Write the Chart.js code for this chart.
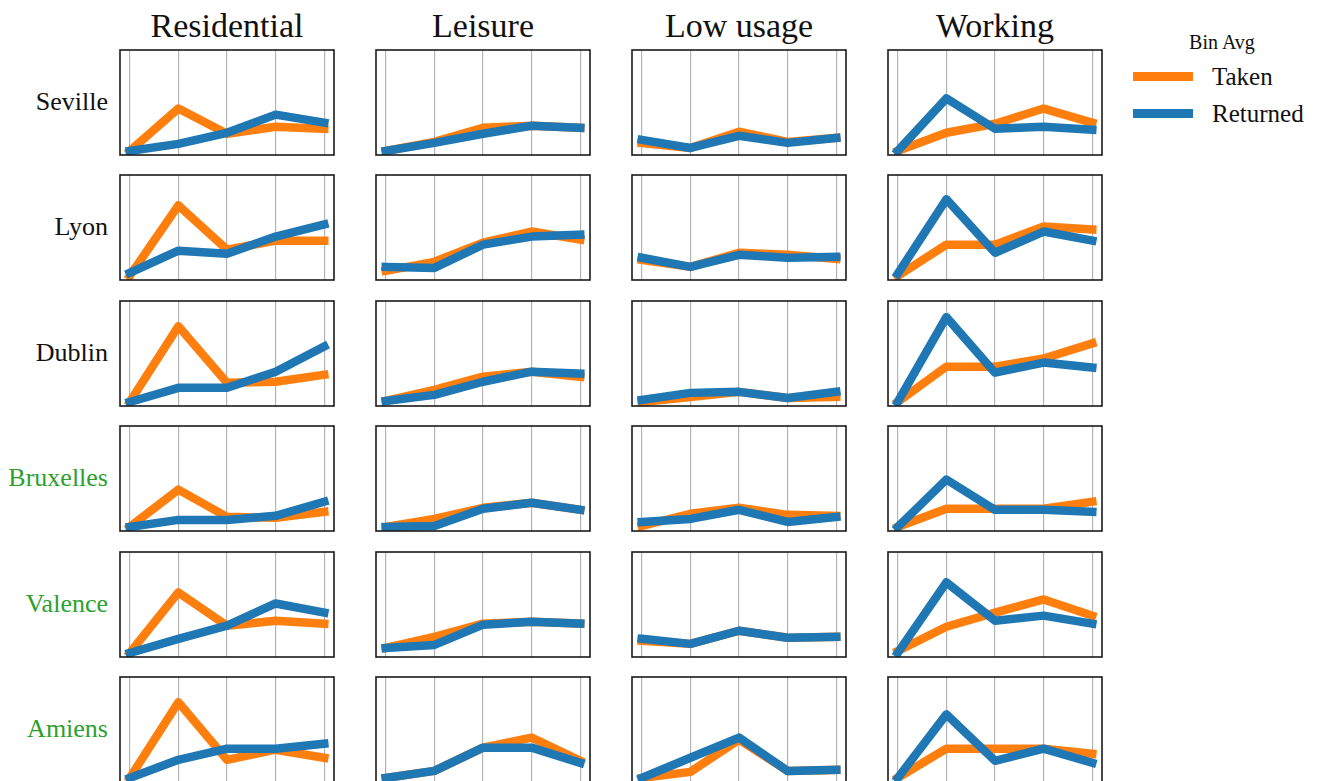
<!DOCTYPE html>
<html>
<head>
<meta charset="utf-8">
<script src="https://cdn.jsdelivr.net/npm/chart.js@4.4.1/dist/chart.umd.min.js"></script>
<style>
  html, body { margin: 0; padding: 0; background: #fff; }
  body { width: 1320px; height: 781px; position: relative; overflow: hidden; font-family: "Liberation Serif", "DejaVu Serif", serif; }
  .wrap { position: absolute; }
  .title { position: absolute; font-size: 34px; line-height: 34px; color: #111; white-space: nowrap; transform: translateX(-50%); }
  .rowlab { position: absolute; font-size: 26px; line-height: 26px; white-space: nowrap; transform: translateX(-100%); }
  .legtitle { position: absolute; font-size: 20px; line-height: 20px; color: #111; transform: translateX(-50%); white-space: nowrap; }
  .legtext { position: absolute; font-size: 25px; line-height: 25px; color: #111; white-space: nowrap; }
  .legline { position: absolute; height: 8.5px; }
</style>
</head>
<body>
<script>
// ---- data ----
const categories = ['Residential', 'Leisure', 'Low usage', 'Working'];
const cities = ['Seville', 'Lyon', 'Dublin', 'Bruxelles', 'Valence', 'Amiens'];
const seriesNames = ['Taken', 'Returned'];
const legendTitle = 'Bin Avg';
const xTicks = [0, 1, 2, 3, 4];

// each: [Residential, Leisure, Low usage, Working], 5 bins each
const sevilleTaken    = [[0, 0.42, 0.17, 0.24, 0.22], [0, 0.09, 0.23, 0.25, 0.23], [0.08, 0.03, 0.19, 0.09, 0.13], [0, 0.18, 0.27, 0.42, 0.28]];
const sevilleReturned = [[0, 0.07, 0.18, 0.36, 0.28], [0, 0.08, 0.17, 0.25, 0.23], [0.11, 0.03, 0.15, 0.08, 0.13], [0, 0.52, 0.22, 0.24, 0.21]];
const lyonTaken       = [[0, 0.70, 0.26, 0.35, 0.35], [0.05, 0.14, 0.33, 0.44, 0.36], [0.16, 0.09, 0.23, 0.21, 0.17], [0, 0.31, 0.31, 0.49, 0.46]];
const lyonReturned    = [[0.03, 0.25, 0.22, 0.39, 0.51], [0.09, 0.08, 0.31, 0.39, 0.41], [0.18, 0.09, 0.21, 0.18, 0.19], [0.02, 0.76, 0.23, 0.44, 0.35]];
const dublinTaken     = [[0, 0.75, 0.19, 0.20, 0.27], [0.01, 0.12, 0.25, 0.30, 0.25], [0, 0.05, 0.10, 0.04, 0.05], [0, 0.35, 0.35, 0.43, 0.58]];
const dublinReturned  = [[0, 0.14, 0.14, 0.30, 0.55], [0.01, 0.07, 0.20, 0.30, 0.28], [0.02, 0.09, 0.10, 0.04, 0.10], [0, 0.84, 0.29, 0.39, 0.34]];
const bruxellesTaken    = [[0, 0.37, 0.10, 0.09, 0.15], [0, 0.08, 0.19, 0.24, 0.17], [0.01, 0.13, 0.19, 0.12, 0.11], [0, 0.18, 0.18, 0.18, 0.25]];
const bruxellesReturned = [[0, 0.07, 0.07, 0.11, 0.25], [0, 0.01, 0.18, 0.24, 0.17], [0.05, 0.08, 0.17, 0.05, 0.10], [0, 0.47, 0.17, 0.17, 0.15]];
const valenceTaken    = [[0, 0.60, 0.27, 0.32, 0.29], [0.05, 0.16, 0.29, 0.31, 0.29], [0.12, 0.09, 0.22, 0.15, 0.16], [0.02, 0.26, 0.40, 0.53, 0.37]];
const valenceReturned = [[0, 0.14, 0.27, 0.49, 0.40], [0.05, 0.08, 0.28, 0.31, 0.29], [0.14, 0.09, 0.22, 0.15, 0.16], [0, 0.70, 0.32, 0.37, 0.29]];
const amiensTaken     = [[0, 0.75, 0.18, 0.28, 0.20], [0, 0.07, 0.30, 0.40, 0.17], [0, 0.06, 0.38, 0.07, 0.08], [0, 0.29, 0.29, 0.29, 0.24]];
const amiensReturned  = [[0, 0.18, 0.29, 0.29, 0.34], [0, 0.07, 0.30, 0.30, 0.15], [0, 0.20, 0.40, 0.07, 0.08], [0, 0.63, 0.17, 0.29, 0.15]];

const takenByCity = [sevilleTaken, lyonTaken, dublinTaken, bruxellesTaken, valenceTaken, amiensTaken];
const returnedByCity = [sevilleReturned, lyonReturned, dublinReturned, bruxellesReturned, valenceReturned, amiensReturned];

// ---- layout / style ----
const greenCities = new Set(['Bruxelles', 'Valence', 'Amiens']);
const colTaken = '#ff7f0e', colReturned = '#1f77b4', colGreen = '#2ca02c';
const colLeft = [120, 376, 632, 888];
const rowTop = [50, 175, 301, 426, 552, 677];
const boxW = 214, boxH = 105, pad = 3;

const framePlugin = {
  id: 'frame',
  afterDraw(chart) {
    const a = chart.chartArea, c = chart.ctx;
    c.save();
    c.strokeStyle = '#1a1a1a';
    c.lineWidth = 1.6;
    c.strokeRect(a.left, a.top, a.right - a.left, a.bottom - a.top);
    c.restore();
  }
};

function el(cls, text, style) {
  const d = document.createElement('div');
  d.className = cls;
  if (text !== null) d.textContent = text;
  Object.assign(d.style, style);
  document.body.appendChild(d);
  return d;
}

categories.forEach((cat, c) => {
  el('title', cat, { left: (colLeft[c] + boxW / 2) + 'px', top: '8.5px' });
});
cities.forEach((city, r) => {
  el('rowlab', city, { left: '108px', top: (rowTop[r] + boxH / 2 + 8 - 21.8) + 'px', color: greenCities.has(city) ? colGreen : '#111' });
});

// legend
el('legtitle', legendTitle, { left: '1222px', top: '32px' });
el('legline', null, { left: '1133px', top: '72px', width: '60px', background: colTaken });
el('legline', null, { left: '1133px', top: '109px', width: '60px', background: colReturned });
el('legtext', seriesNames[0], { left: '1212px', top: '64px' });
el('legtext', seriesNames[1], { left: '1212px', top: '101px' });

cities.forEach((city, r) => {
  categories.forEach((cat, c) => {
    const wrap = el('wrap', null, {
      left: (colLeft[c] - pad) + 'px', top: (rowTop[r] - pad) + 'px',
      width: (boxW + 2 * pad) + 'px', height: (boxH + 2 * pad) + 'px'
    });
    const cv = document.createElement('canvas');
    cv.width = boxW + 2 * pad; cv.height = boxH + 2 * pad;
    wrap.appendChild(cv);
    const mk = (vals) => xTicks.map((x, i) => ({ x: x, y: vals[i] }));
    new Chart(cv, {
      type: 'line',
      data: {
        datasets: [
          { label: seriesNames[1], data: mk(returnedByCity[r][c]), borderColor: colReturned },
          { label: seriesNames[0], data: mk(takenByCity[r][c]), borderColor: colTaken }
        ].map(d => Object.assign(d, {
          borderWidth: 8.5, pointRadius: 0, tension: 0, fill: false, clip: 0,
          borderJoinStyle: 'round', borderCapStyle: 'square'
        }))
      },
      options: {
        responsive: false, animation: false, devicePixelRatio: 1,
        layout: { padding: pad },
        plugins: { legend: { display: false }, tooltip: { enabled: false } },
        scales: {
          x: {
            type: 'linear', min: -0.2, max: 4.2,
            afterBuildTicks: (s) => { s.ticks = xTicks.map(v => ({ value: v })); },
            ticks: { display: false },
            grid: { display: true, color: '#b5b5b5', lineWidth: 1.2, drawTicks: false },
            border: { display: false }
          },
          y: { display: false, min: -0.04, max: 1.0 }
        }
      },
      plugins: [framePlugin]
    });
  });
});
</script>
</body>
</html>
